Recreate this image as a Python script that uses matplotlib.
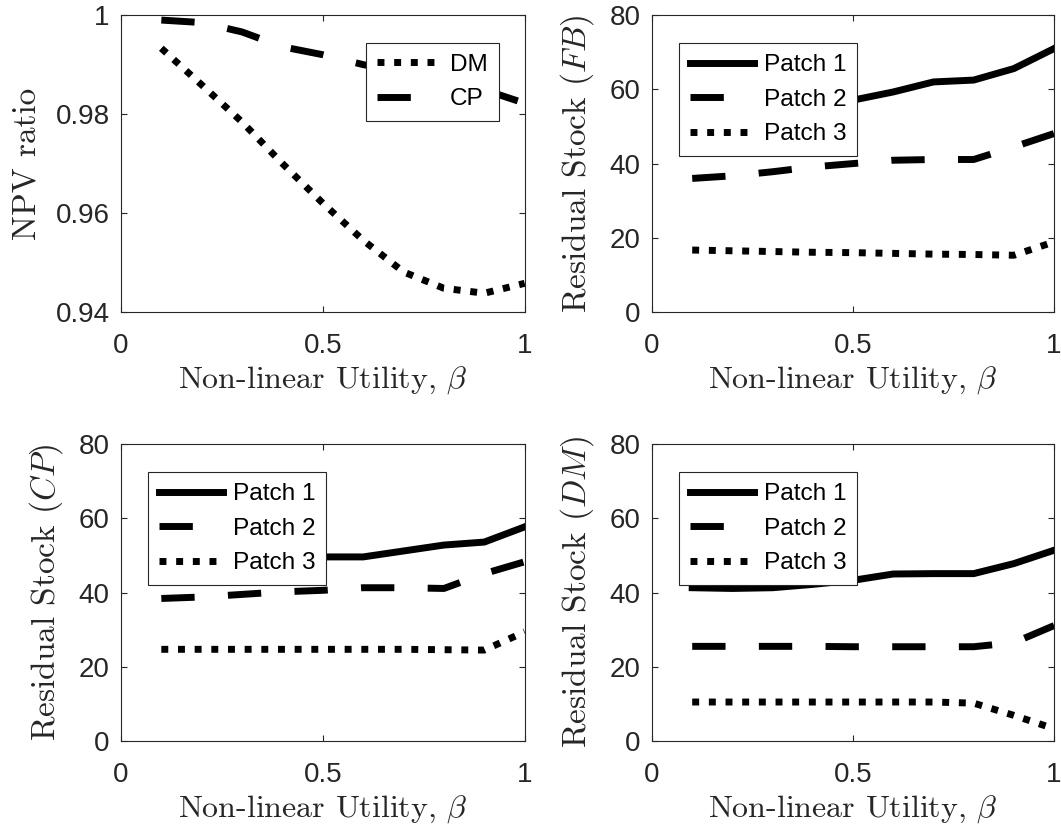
import matplotlib
matplotlib.use('Agg')
import matplotlib.pyplot as plt

plt.rcParams['mathtext.fontset'] = 'cm'
plt.rcParams['font.family'] = ['Liberation Sans', 'DejaVu Sans']

beta = [0.1, 0.2, 0.3, 0.4, 0.5, 0.6, 0.7, 0.8, 0.9, 1.0]

# NPV ratio
npv_dm = [0.9933, 0.9859, 0.9784, 0.9700, 0.9620, 0.9545, 0.9481, 0.9448, 0.9438, 0.9458]
npv_cp = [0.9990, 0.9985, 0.9966, 0.9936, 0.9920, 0.9900, 0.9885, 0.9870, 0.9849, 0.9822]

# residual stock, first best
fb_p1 = [50.0, 52.0, 54.0, 55.5, 57.1, 59.3, 62.0, 62.5, 65.6, 71.0]
fb_p2 = [36.0, 36.7, 37.8, 39.1, 40.0, 40.9, 41.1, 41.1, 44.5, 48.1]
fb_p3 = [16.7, 16.5, 16.3, 16.1, 16.0, 15.8, 15.6, 15.5, 15.3, 18.9]

# residual stock, CP
cp_p1 = [48.0, 48.5, 49.0, 49.3, 49.6, 49.6, 51.2, 52.8, 53.6, 57.7]
cp_p2 = [38.4, 38.8, 39.5, 40.2, 40.6, 41.3, 41.3, 41.1, 45.1, 48.3]
cp_p3 = [24.7, 24.7, 24.7, 24.7, 24.7, 24.7, 24.7, 24.6, 24.5, 29.4]

# residual stock, DM
dm_p1 = [41.3, 41.1, 41.3, 42.2, 43.3, 45.0, 45.1, 45.1, 47.8, 51.4]
dm_p2 = [25.5, 25.5, 25.5, 25.5, 25.4, 25.4, 25.4, 25.4, 26.5, 31.1]
dm_p3 = [10.5, 10.5, 10.5, 10.5, 10.5, 10.5, 10.5, 10.2, 6.9, 3.3]

SOLID = '-'
DASH = (0, (4.8, 4.8))
DOT = (0, (1, 1.4))
LW = 5
GRAY = '#262626'

xlab = 'Non-linear Utility, $\\beta$'

fig = plt.figure(figsize=(10.61, 8.27), dpi=100)
h = 0.359
ax1 = fig.add_axes([0.114, 0.6227, 0.3805, h])
ax2 = fig.add_axes([0.6145, 0.6227, 0.379, h])
ax3 = fig.add_axes([0.114, 0.104, 0.3805, h])
ax4 = fig.add_axes([0.6145, 0.104, 0.379, h])


def style(ax, ylabel):
    ax.set_xlim(0, 1)
    ax.set_xticks([0, 0.5, 1])
    ax.set_xticklabels(['0', '0.5', '1'])
    ax.tick_params(direction='in', top=True, right=True, length=4, width=0.8,
                   labelsize=20, colors=GRAY, labelcolor=GRAY)
    ax.tick_params(axis='x', pad=15)
    ax.tick_params(axis='y', pad=8)
    for s in ax.spines.values():
        s.set_color(GRAY)
        s.set_linewidth(0.8)
    ax.set_xlabel(xlab, fontsize=23, fontfamily='cmr10', labelpad=4, color=GRAY)
    ax.set_ylabel(ylabel, fontsize=24, fontfamily='cmr10', labelpad=10, color=GRAY)


def leg(ax, x, y):
    l = ax.legend(loc='upper left', bbox_to_anchor=(x, y), fontsize=17.6,
                  handlelength=2.6, borderaxespad=0, fancybox=False,
                  framealpha=1, edgecolor=GRAY, labelspacing=0.5,
                  handletextpad=0.4, borderpad=0.45)
    l.get_frame().set_linewidth(0.8)


ax1.plot(beta, npv_dm, color='k', lw=LW, linestyle=DOT, label='DM')
ax1.plot(beta, npv_cp, color='k', lw=LW, linestyle=DASH, label='CP')
ax1.set_ylim(0.94, 1)
ax1.set_yticks([0.94, 0.96, 0.98, 1])
ax1.set_yticklabels(['0.94', '0.96', '0.98', '1'])
style(ax1, 'NPV ratio')
leg(ax1, 0.606, 0.907)

panels = [(ax2, fb_p1, fb_p2, fb_p3, 'Residual Stock $(FB)$'),
          (ax3, cp_p1, cp_p2, cp_p3, 'Residual Stock $(CP)$'),
          (ax4, dm_p1, dm_p2, dm_p3, 'Residual Stock $(DM)$')]
for ax, p1, p2, p3, yl in panels:
    ax.plot(beta, p1, color='k', lw=LW, linestyle=SOLID, label='Patch 1')
    ax.plot(beta, p2, color='k', lw=LW, linestyle=DASH, label='Patch 2')
    ax.plot(beta, p3, color='k', lw=LW, linestyle=DOT, label='Patch 3')
    ax.set_ylim(0, 80)
    ax.set_yticks([0, 20, 40, 60, 80])
    style(ax, yl)
    leg(ax, 0.068, 0.905)

fig.savefig('out.png', dpi=100)
